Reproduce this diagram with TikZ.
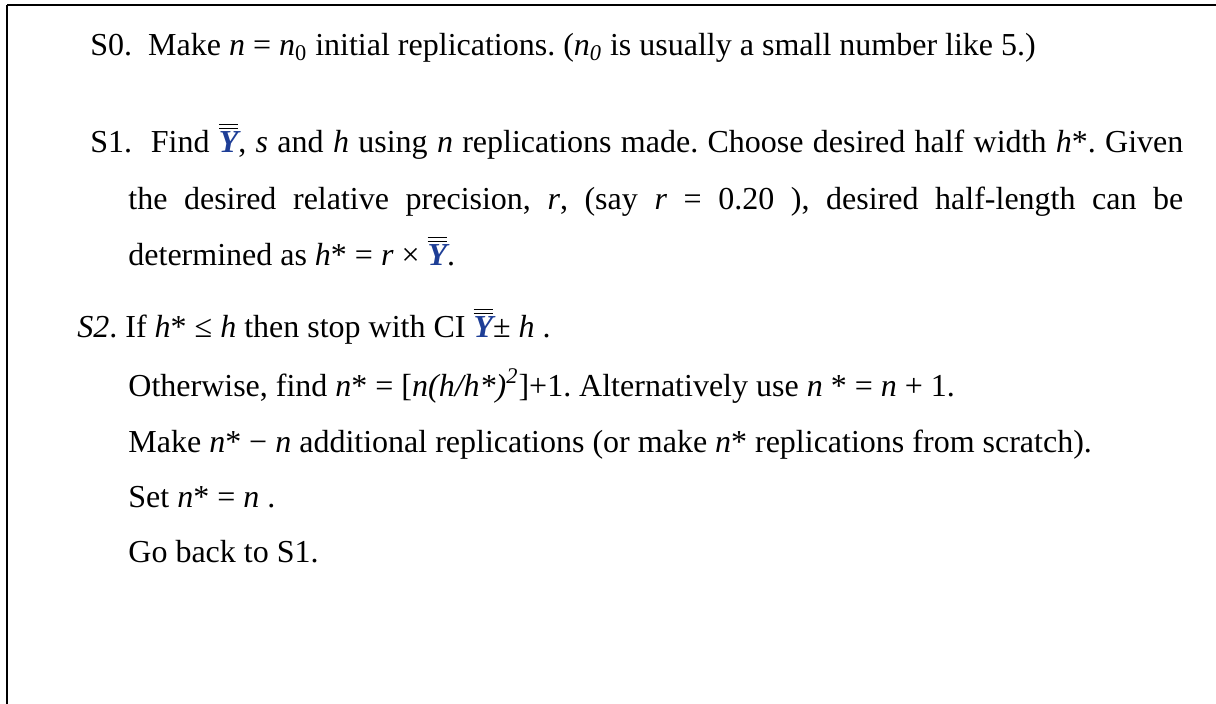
\documentclass[tikz,border=0pt]{standalone}
\usepackage{fontspec}
\setmainfont{Liberation Serif}
\usetikzlibrary{positioning}
\definecolor{ybarblue}{RGB}{30,62,150}
\newcommand{\ybar}{$\overline{\overline{\mbox{\textcolor{ybarblue}{\bfseries\itshape Y}}}}$}
\frenchspacing

\begin{document}
\begin{tikzpicture}[x=0.5pt, y=-0.5pt,
  steptext/.style={anchor=base west, inner sep=0pt, font=\fontsize{16}{18}\selectfont}]
  \def\xlineskip{28pt}
  \def\xindent{19pt}
  \coordinate (box corner) at (7,5);
  \useasboundingbox (0,0) rectangle (1216,704);
  % frame: only top and left side show
  \draw[line width=1.3pt] (box corner) -- (1216,5);
  \draw[line width=1.3pt] (box corner) -- (7,704);
  % S0
  \node[steptext] (s0) at (90,55.5) {S0.\ \ Make \textit{n} = \textit{n}\textsubscript{0} initial replications. (\textit{n\textsubscript{0}} is usually a small number like 5.)};
  % S1
  \node[steptext, below = 48.5pt of s0.base west, anchor=base west] (s1a) {\makebox[546.5pt][s]{S1.\ \ Find \ybar, \textit{s} and \textit{h} using \textit{n} replications made. Choose desired half width \textit{h}*. Given}};
  \node[steptext, below right = 28.5pt and \xindent of s1a.base west, anchor=base west] (s1b) {\makebox[527.5pt][s]{the desired relative precision, \textit{r}, (say \textit{r} = 0.20 ), desired half-length can be}};
  \node[steptext, below = \xlineskip of s1b.base west, anchor=base west] (s1c) {determined as \textit{h}* = \textit{r} × \ybar.};
  % S2
  \node[steptext, below left = 36pt and 25.5pt of s1c.base west, anchor=base west] (s2) {\textit{S2}. If \textit{h}* ≤ \textit{h} then stop with CI \ybar± \textit{h} .};
  \node[steptext, below right = 29.5pt and 25.5pt of s2.base west, anchor=base west] (otherwise) {Otherwise, find \textit{n}* = [\textit{n(h/h*)}\textsuperscript{\textit{2}}]+1. Alternatively use \textit{n} * = \textit{n} + 1.};
  \node[steptext, below = \xlineskip of otherwise.base west, anchor=base west] (make) {Make \textit{n}* − \textit{n} additional replications (or make \textit{n}* replications from scratch).};
  \node[steptext, below = 27.5pt of make.base west, anchor=base west] (set) {Set \textit{n}* = \textit{n} .};
  \node[steptext, below = 27.5pt of set.base west, anchor=base west] (goback) {Go back to S1.};
\end{tikzpicture}
\end{document}
